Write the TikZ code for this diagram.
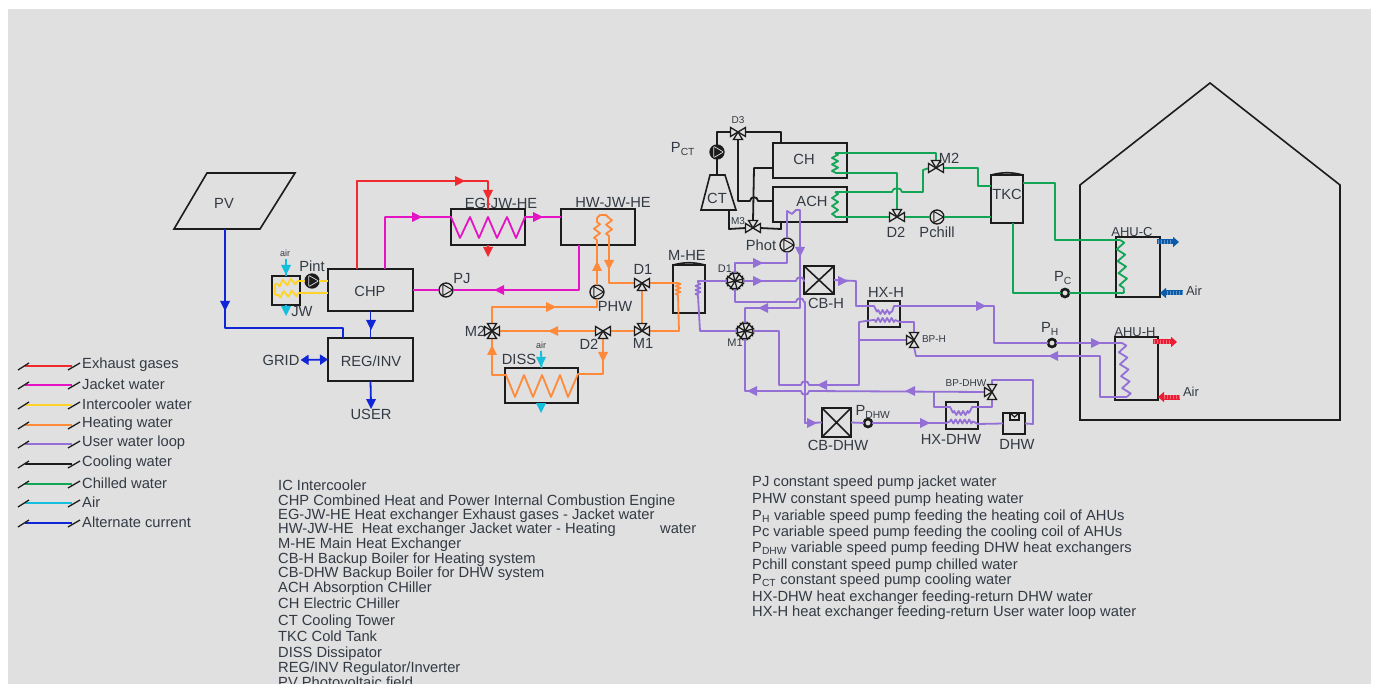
\documentclass[tikz,border=0pt]{standalone}
\usepackage{fontspec}
\setmainfont{Liberation Sans}
\usetikzlibrary{arrows.meta,decorations.pathmorphing}
\definecolor{bg}{HTML}{E0E0E0}
\definecolor{ink}{HTML}{1C1C1C}
\definecolor{lbl}{HTML}{333A44}
\definecolor{exh}{HTML}{F02B30}
\definecolor{jack}{HTML}{E414C4}
\definecolor{icw}{HTML}{FFD426}
\definecolor{heatw}{HTML}{FF8A3A}
\definecolor{userw}{HTML}{9470D6}
\definecolor{chil}{HTML}{12A555}
\definecolor{airc}{HTML}{14BEDC}
\definecolor{acc}{HTML}{1024D8}
\definecolor{airb}{HTML}{0B5CA8}
\definecolor{airr}{HTML}{EC1C34}
\tikzset{
    unit/.style={draw=ink,line width=1.6pt,inner sep=0pt,outer sep=0pt},
    box/.style n args={2}{unit,minimum width=#1pt,minimum height=#2pt},
    lab/.style={text=lbl,font=\fontsize{14.7}{16}\selectfont,inner sep=0pt},
    smalllab/.style={text=lbl,font=\fontsize{10}{12}\selectfont,inner sep=0pt},
    pipe/.style={line width=1.8pt,line join=round},
    hotgas/.style={pipe,draw=exh},
    jacket/.style={pipe,draw=jack},
    inter/.style={pipe,draw=icw},
    heating/.style={pipe,draw=heatw},
    loopw/.style={pipe,draw=userw},
    cooling/.style={pipe,draw=ink},
    chilled/.style={pipe,draw=chil},
    airline/.style={pipe,draw=airc},
    power/.style={pipe,draw=acc},
    coil/.style 2 args={decorate,decoration={zigzag,segment length=#1pt,amplitude=#2pt}},
    pump/.style={circle,draw=ink,line width=1.3pt,minimum size=14pt,inner sep=0pt,outer sep=0pt,fill=bg,
        path picture={\draw[draw=ink,line width=1pt,rotate=#1] (0:6.5pt)--(120:6.5pt)--(240:6.5pt)--cycle;}},
    blackpump/.style={circle,draw=ink,line width=1.3pt,minimum size=14pt,inner sep=0pt,outer sep=0pt,fill=ink,
        path picture={\draw[draw=bg,line width=.7pt,rotate=#1] (0:6.5pt)--(120:6.5pt)--(240:6.5pt)--cycle;}},
    dotpump/.style={circle,draw=ink,line width=2.6pt,minimum size=8pt,inner sep=0pt,outer sep=0pt,fill=bg},
    vnode/.style={rectangle,minimum size=14pt,inner sep=0pt,outer sep=0pt},
    valve/.pic={\foreach \a in {#1} \draw[draw=ink,fill=bg,line width=1.3pt,rotate=\a] (0,0)--(7.5pt,4.5pt)--(7.5pt,-4.5pt)--cycle;},
    flowtip/.pic={\fill (-5pt,-5pt)--(5pt,0pt)--(-5pt,5pt)--cycle;},
    airout/.style={line width=5pt,-{Triangle[length=6pt,width=10pt]}},
    hatch/.style={draw=white,opacity=.35,line width=4pt,dash pattern=on 1pt off 2pt}
}
\begin{document}
\begin{tikzpicture}[x=1pt,y=-1pt]
    \useasboundingbox (0,0) rectangle (1373,684);
    \fill[bg] (8,9) rectangle (1371,684);

    \draw[unit] (1080,420) -- (1080,185) -- (1210,83) -- (1340,185) -- (1340,420) -- cycle;

    \draw[unit] (207,173) -- (295,173) -- (260,229) -- (174,229) -- cycle;
    \coordinate (PVout) at (225,229);
    \node[lab] (PV) at (224,203) {PV};
    \node[box={85}{42}] (CHP) at (370.5,290) {};
    \node[lab] (CHPl) at (370,291) {CHP};
    \node[box={85}{43}] (REG) at (370.5,359.5) {};
    \node[lab] (REGl) at (371,361) {REG/INV};
    \node[lab] (GRID) at (281,360) {GRID};
    \node[lab] (USER) at (371,414) {USER};
    \node[box={74}{36}] (EGJW) at (488,227) {};
    \node[lab] (EGJWl) at (501,203) {EG-JW-HE};
    \node[box={74}{36}] (HWJW) at (598,227) {};
    \node[lab] (HWJWl) at (613,203) {HW-JW-HE};
    \node[box={73}{35}] (DISS) at (541.5,385.5) {};
    \node[lab] (DISSl) at (519,359) {DISS};
    \node[box={28}{29}] (JWB) at (286,290.5) {};
    \node[box={32}{48}] (MHE) at (689,289) {};
    \draw[unit] (MHE.north west) to[bend left=14] (MHE.north east);
    \node[lab] (MHEl) at (687,255) {M-HE};
    \node[box={32}{48}] (TKC) at (1007,199) {};
    \draw[unit] (TKC.north west) to[bend left=14] (TKC.north east);
    \node[lab] (TKCl) at (1007,194) {TKC};
    \node[box={74}{35}] (CH) at (810,160.5) {};
    \node[lab] (CHl) at (804,159) {CH};
    \node[box={74}{35}] (ACH) at (810,204.5) {};
    \node[lab] (ACHl) at (812,201) {ACH};
    \draw[unit] (710,175) -- (725,175) -- (736,210) -- (701,210) -- cycle;
    \node[lab] (CT) at (717,198) {CT};
    \node[box={30}{28}] (CBH) at (819,280) {};
    \draw[unit] (CBH.north west) -- (CBH.south east) (CBH.north east) -- (CBH.south west);
    \node[lab] (CBHl) at (826,303) {CB-H};
    \node[box={29}{29}] (CBD) at (836.5,422.5) {};
    \draw[unit] (CBD.north west) -- (CBD.south east) (CBD.north east) -- (CBD.south west);
    \node[lab] (CBDl) at (838,445) {CB-DHW};
    \node[box={32}{26}] (HXH) at (884,314) {};
    \node[lab] (HXHl) at (886,292) {HX-H};
    \node[box={32}{27}] (HXD) at (962,415.5) {};
    \node[lab] (HXDl) at (951,439) {HX-DHW};
    \node[box={22}{21}] (DHW) at (1014,423.5) {};
    \node[lab] (DHWl) at (1017,444) {DHW};
    \node[box={44}{60}] (AHUC) at (1138,267) {};
    \node[lab,font=\fontsize{13}{15}\selectfont] (AHUCl) at (1132,232) {AHU-C};
    \node[box={43}{63}] (AHUH) at (1136.5,368.5) {};
    \node[lab,font=\fontsize{13}{15}\selectfont] (AHUHl) at (1135,332) {AHU-H};

    \node[pump=180] (PJ) at (446,290) {};
    \node[lab] (PJl) at (462,279) {PJ};
    \node[blackpump=180] (Pint) at (312,281) {};
    \node[lab] (Pintl) at (312,266) {Pint};
    \node[lab] (JWl) at (302,312) {JW};
    \node[pump=90] (PHW) at (597,292) {};
    \node[lab] (PHWl) at (615,306) {PHW};
    \node[blackpump=90] (PCT) at (717,152) {};
    \node[lab] (PCTl) at (683,149) {P\textsubscript{CT}};
    \node[pump=90] (Phot) at (787,245) {};
    \node[lab] (Photl) at (761,245) {Phot};
    \node[pump=180] (Pchill) at (937,217) {};
    \node[lab] (Pchilll) at (937,232) {Pchill};
    \node[dotpump] (PDHW) at (868,423) {};
    \node[lab] (PDHWl) at (873,412) {P\textsubscript{DHW}};
    \node[dotpump] (PC) at (1065,293) {};
    \node[lab] (PCl) at (1063,278) {P\textsubscript{C}};
    \node[dotpump] (PH) at (1052,343) {};
    \node[lab] (PHl) at (1050,329) {P\textsubscript{H}};

    \node[vnode] (D1) at (642,283) {};
    \node[lab] (D1l) at (643,269) {D1};
    \node[vnode] (M1) at (642,331) {};
    \node[lab] (M1l) at (643,343) {M1};
    \node[vnode] (D2) at (603,331) {};
    \node[lab] (D2l) at (589,344) {D2};
    \node[vnode] (M2) at (492,331) {};
    \node[lab] (M2l) at (475,331) {M2};
    \node[vnode] (D3) at (738,132) {};
    \node[smalllab] (D3l) at (738,120) {D3};
    \node[vnode] (M3) at (753,228) {};
    \node[smalllab] (M3l) at (738,221) {M3};
    \node[vnode] (M2c) at (936,168) {};
    \node[lab] (M2cl) at (949,158) {M2};
    \node[vnode] (D2c) at (897,217) {};
    \node[lab] (D2cl) at (896,232) {D2};
    \node[vnode] (D1u) at (735,281) {};
    \node[smalllab,font=\fontsize{11}{13}\selectfont] (D1ul) at (725,269) {D1};
    \node[vnode] (M1u) at (745,331) {};
    \node[smalllab,font=\fontsize{11}{13}\selectfont] (M1ul) at (735,343) {M1};
    \node[vnode] (BPH) at (914,340) {};
    \node[smalllab] (BPHl) at (934,339) {BP-H};
    \node[vnode] (BPD) at (992,392) {};
    \node[smalllab] (BPDl) at (966,383) {BP-DHW};

    \begin{scope}[color=acc]
        \draw[power] (PVout) -- (225,328) -- (343,328) -- ([xshift=-27.5pt]REG.north);
        \draw[power] (CHP.south) -- (REG.north);
        \draw[power] (REG.south) -- (371,404);
        \draw[power,{Triangle[length=8pt,width=10pt]}-{Triangle[length=8pt,width=10pt]}] (GRID.east) ++(1,0) -- (REG.west);
        \pic[rotate=-90] at (225,306) {flowtip};
        \pic[rotate=-90] at (371,325) {flowtip};
        \pic[rotate=-90] at (371,404) {flowtip};
    \end{scope}

    \begin{scope}[color=exh]
        \draw[hotgas] ([xshift=-13.5pt]CHP.north) -- (357,181) -- (488,181) -- (EGJW.north);
        \draw[hotgas] (EGJW.south) -- (488,252);
        \pic at (460,181) {flowtip};
        \pic[rotate=-90] at (488,195) {flowtip};
        \pic[rotate=-90] at (488,252) {flowtip};
    \end{scope}

    \begin{scope}[color=jack]
        \draw[jacket] ([xshift=14.5pt]CHP.north) -- (385,217) -- (451,217) -- (460,238) -- (470,217) -- (479,238) -- (488,217) -- (497,238) -- (507,217) -- (516,238) -- (525,217) -- (561,217);
        \draw[jacket] ([xshift=-19pt]HWJW.south) -- (579,290) -- (PJ.east);
        \draw[jacket] (PJ.west) -- (CHP.east);
        \pic at (417,217) {flowtip};
        \pic at (538,217) {flowtip};
        \pic[rotate=180] at (499,290) {flowtip};
    \end{scope}

    \draw[inter] (CHP.west |- Pint) -- (Pint.east);
    \draw[inter] (Pint.west) -- (297,281);
    \draw[inter,coil={8}{3}] (297,281) -- (275,284);
    \draw[inter] (CHP.west |- 0,293) -- (298,293);
    \draw[inter,coil={8}{3}] (298,293) -- (275,295);
    \draw[inter] (275,284) -- (275,295);
    \begin{scope}[color=airc]
        \draw[airline] (286,259) -- (JWB.north);
        \draw[airline] (JWB.south) -- (286,312);
        \pic[rotate=-90] at (286,270) {flowtip};
        \pic[rotate=-90] at (286,311) {flowtip};
        \draw[airline] (541,351) -- (DISS.north);
        \pic[rotate=-90] at (541,362) {flowtip};
        \pic[rotate=-90] at (541,408) {flowtip};
    \end{scope}
    \node[smalllab,font=\fontsize{9}{11}\selectfont] (airJ) at (285,253) {air};
    \node[smalllab,font=\fontsize{9}{11}\selectfont] (airD) at (541,345) {air};

    \begin{scope}[color=heatw]
        \draw[heating] (PHW.north) -- (597,240);
        \draw[heating,coil={9}{3}] (597,240) -- (597,218);
        \draw[heating] (597,218) -- (600,215) -- (606,215) -- (609,218);
        \draw[heating,coil={9}{3}] (609,218) -- (609,240);
        \draw[heating] (609,240) -- (609,283) -- (D1.west);
        \draw[heating] (PHW.south) -- (597,307) -- (492,307) -- (M2.north);
        \draw[heating] (D1.east) -- (678,283);
        \draw[heating,coil={4}{2.5}] (678,283) -- (678,296);
        \draw[heating] (678,296) -- (679,331) -- (M1.east);
        \draw[heating] (D1.south) -- (M1.north);
        \draw[heating] (M1.west) -- (D2.east);
        \draw[heating] (D2.west) -- (M2.east);
        \draw[heating] (D2.south) -- (603,374) -- (578,374) -- (568,397) -- (560,375) -- (551,397) -- (542,375) -- (533,397) -- (524,375) -- (515,397) -- (506,375) -- (492,375) -- (M2.south);
        \pic[rotate=90] at (597,266) {flowtip};
        \pic[rotate=-90] at (609,265) {flowtip};
        \pic at (551,307) {flowtip};
        \pic[rotate=180] at (553,331) {flowtip};
        \pic[rotate=-90] at (603,357) {flowtip};
        \pic[rotate=90] at (492,350) {flowtip};
    \end{scope}

    \draw[cooling] (CT.north |- 0,175) -- (PCT.south);
    \draw[cooling] (PCT.north) -- (717,132) -- (D3.west);
    \draw[cooling] (D3.east) -- (781,132) -- ([xshift=-29pt]CH.north);
    \draw[cooling] (D3.south) -- (738,201) -- (750,201) .. controls (750,196) and (758,196) .. (758,201) -- (773,201);
    \draw[cooling] (773,168) -- (754,168) -- (M3.north);
    \draw[cooling] (729,210) -- (729,229) -- (M3.west);
    \draw[cooling] (M3.east) -- (781,229) -- ([xshift=-29pt]ACH.south);

    \draw[chilled,coil={6.5}{3}] (835,153) -- (835,173);
    \draw[chilled] (835,153) -- (936,153) -- (M2c.north);
    \draw[chilled] (835,173) -- (897,173) -- (D2c.north);
    \draw[chilled,coil={8}{3}] (835,192) -- (835,217);
    \draw[chilled] (835,192) -- (892,192) .. controls (892,187) and (902,187) .. (902,192) -- (923,192) -- (923,170) -- (M2c.west);
    \draw[chilled] (835,217) -- (D2c.west);
    \draw[chilled] (D2c.east) -- (Pchill.west);
    \draw[chilled] (Pchill.east) -- (TKC.west |- Pchill);
    \draw[chilled] (M2c.east) -- (978,168) -- (978,186) -- (TKC.west |- 0,186);
    \draw[chilled] (TKC.east |- 0,183) -- (1055,183) -- (1055,240) -- (1120,240);
    \draw[chilled,coil={12}{4}] (1120,240) -- (1124,293);
    \draw[chilled] (1124,293) -- (PC.east);
    \draw[chilled] (PC.west) -- (1013,293) -- ([xshift=6pt]TKC.south);

    \begin{scope}[color=userw]
        \draw[loopw] (Phot.north) -- (787,211) -- (792,214) -- (796,210) -- (800,210) -- (800,308) -- (745,308) -- (M1u.north);
        \draw[loopw] (Phot.south) -- (787,263) -- (735,263) -- (D1u.north);
        \draw[loopw,coil={4}{2.5}] (698,283) -- (698,296);
        \draw[loopw] (698,283) -- (698,281) -- (D1u.west);
        \draw[loopw] (698,296) -- (700,331) -- (M1u.west);
        \draw[loopw] (D1u.east) -- (796,281) .. controls (796,276) and (804,276) .. (804,281) -- (CBH.west);
        \draw[loopw] (D1u.south) -- (735,302) -- (796,302) .. controls (796,297) and (804,297) .. (804,302) -- (805,302) -- (805,423) -- (CBD.west);
        \draw[loopw] (CBH.east) -- (856,281) -- (856,306) -- (874,306) -- (877,312);
        \draw[loopw,coil={4.5}{2}] (877,312) -- (892,312);
        \draw[loopw] (892,312) -- (894,306) -- (994,306) -- (994,343) -- (PH.west);
        \draw[loopw] (PH.east) -- (1122,343);
        \draw[loopw,coil={12}{4}] (1122,343) -- (1127,397);
        \draw[loopw] (1127,397) -- (1100,397) -- (1100,356) -- (916,356) -- (BPH.south);
        \draw[loopw] (BPH.north) -- (914,322) -- (900,322) -- (895,320);
        \draw[loopw,coil={4.5}{2}] (895,320) -- (873,320);
        \draw[loopw] (873,320) -- (859,322) -- (859,385) -- (809,385) .. controls (809,380) and (801,380) .. (801,385) -- (779,385) -- (779,331) -- (M1u.east);
        \draw[loopw] (BPH.west) -- (859,340);
        \draw[loopw] (M1u.south) -- (745,391) -- (801,391) .. controls (801,396) and (809,396) .. (809,391) -- (BPD.west);
        \draw[loopw] (934,391) -- (934,407) -- (950,407) -- (953,413);
        \draw[loopw,coil={4.5}{2}] (953,413) -- (969,413);
        \draw[loopw] (969,413) -- (972,407) -- (992,407) -- (BPD.south);
        \draw[loopw] (BPD.north) -- (992,380) -- (1033,380) -- (1033,424) -- (DHW.east);
        \draw[loopw] (CBD.east) -- (PDHW.west);
        \draw[loopw] (PDHW.east) -- (946,423) -- (950,421.5);
        \draw[loopw,coil={4.5}{2}] (950,421.5) -- (973,421.5);
        \draw[loopw] (973,421.5) -- (978,424) -- (DHW.west);
        \draw[draw=ink,line width=1.2pt] (1010,413) -- (1010,420) -- (1019,420) -- (1019,413);
        \draw[draw=ink,line width=1.2pt] (1010,413) -- (1014.5,417) -- (1019,413);
        \pic at (758,263) {flowtip};
        \pic at (758,281) {flowtip};
        \pic[rotate=-90] at (800,252) {flowtip};
        \pic[rotate=180] at (763,308) {flowtip};
        \pic at (843,281) {flowtip};
        \pic at (812,423) {flowtip};
        \pic[rotate=180] at (822,385) {flowtip};
        \pic[rotate=180] at (752,391) {flowtip};
        \pic[rotate=180] at (910,391) {flowtip};
        \pic at (925,423) {flowtip};
        \pic at (981,306) {flowtip};
        \pic at (1096,343) {flowtip};
        \pic[rotate=180] at (1053,356) {flowtip};
    \end{scope}

    \pic at (D1) {valve={0,180,270}};
    \pic at (M1) {valve={0,180,90}};
    \pic at (D2) {valve={0,180,270}};
    \pic at (M2) {valve={0,90,180,270}};
    \pic at (D3) {valve={0,180,270}};
    \pic at (M3) {valve={0,180,90}};
    \pic at (M2c) {valve={0,180,90}};
    \pic at (D2c) {valve={0,180,90}};
    \pic at (D1u) {valve={0,45,90,135,180,225,270,315}};
    \pic at (M1u) {valve={0,45,90,135,180,225,270,315}};
    \pic at (BPH) {valve={90,180,270}};
    \pic at (BPD) {valve={90,180,270}};

    \coordinate (outC) at (1179,242);
    \coordinate (inC) at (1183,293);
    \coordinate (outH) at (1177,342);
    \coordinate (inH) at (1180,397);
    \draw[airout,draw=airb,fill=airb] ([xshift=-3pt]AHUC.east |- outC) -- (outC);
    \draw[airout,draw=airb,fill=airb] (inC) -- (AHUC.east |- inC);
    \draw[airout,draw=airr,fill=airr] ([xshift=-5pt]AHUH.east |- outH) -- (outH);
    \draw[airout,draw=airr,fill=airr] (inH) -- (AHUH.east |- inH);
    \draw[hatch] (1158,242) -- (1173,242);
    \draw[hatch] (1183,293) -- (1167,293);
    \draw[hatch] (1154,342) -- (1171,342);
    \draw[hatch] (1180,397) -- (1164,397);
    \node[lab,font=\fontsize{13}{15}\selectfont] (AirC) at (1194,291) {Air};
    \node[lab,font=\fontsize{13}{15}\selectfont] (AirH) at (1191,392) {Air};

    \foreach \y/\c/\l [count=\i] in {366/exh/Exhaust gases, 385/jack/Jacket water, 405/icw/Intercooler water, 425/heatw/Heating water, 444/userw/User water loop, 464/ink/Cooling water, 484/chil/Chilled water, 503/airc/Air, 523/acc/Alternate current} {
        \draw[draw=\c,line width=1.8pt] (25,\y) -- (72,\y);
        \draw[draw=ink,line width=1.3pt] (18,\y+4) -- (29,\y-3);
        \draw[draw=ink,line width=1.3pt] (68,\y+4) -- (80,\y-3);
        \node[lab,anchor=west] (leg\i) at (82,\y-1) {\l};
    }

    \foreach \y/\l [count=\i] in {485/IC Intercooler, 500/CHP Combined Heat and Power Internal Combustion Engine, 514/EG-JW-HE Heat exchanger Exhaust gases - Jacket water, 528/HW-JW-HE\ \ Heat exchanger Jacket water - Heating, 543/M-HE Main Heat Exchanger, 558/CB-H Backup Boiler for Heating system, 572/CB-DHW Backup Boiler for DHW system, 587/ACH Absorption CHiller, 603/CH Electric CHiller, 620/CT Cooling Tower, 636/TKC Cold Tank, 652/DISS Dissipator, 667/{REG/INV Regulator/Inverter}, 682/PV Photovoltaic field} {
        \node[lab,anchor=base west] (abbr\i) at (278,\y+5) {\l};
    }
    \node[lab,anchor=base west] (abbrw) at (660,533) {water};

    \foreach \y/\l [count=\i] in {481/PJ constant speed pump jacket water, 498/PHW constant speed pump heating water, 515/P\textsubscript{H} variable speed pump feeding the heating coil of AHUs, 531/Pc variable speed pump feeding the cooling coil of AHUs, 547/P\textsubscript{DHW} variable speed pump feeding DHW heat exchangers, 564/Pchill constant speed pump chilled water, 579/P\textsubscript{CT} constant speed pump cooling water, 596/HX-DHW heat exchanger feeding-return DHW water, 611/HX-H heat exchanger feeding-return User water loop water} {
        \node[lab,anchor=base west] (pump\i) at (752,\y+5) {\l};
    }
\end{tikzpicture}
\end{document}
